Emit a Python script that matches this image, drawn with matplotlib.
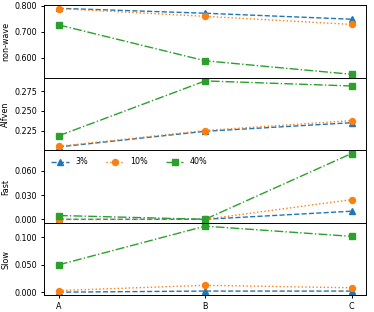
import matplotlib
matplotlib.use('Agg')
import matplotlib.pyplot as plt
from matplotlib.ticker import FormatStrFormatter

plt.rcParams['font.size'] = 5.8
plt.rcParams['xtick.major.size'] = 2.5
plt.rcParams['ytick.major.size'] = 2.5
plt.rcParams['xtick.major.pad'] = 2.0
plt.rcParams['ytick.major.pad'] = 2.5
plt.rcParams['axes.linewidth'] = 0.7
plt.rcParams['xtick.major.width'] = 0.7
plt.rcParams['ytick.major.width'] = 0.7

cases = ["A", "B", "C"]
labels = ["3%", "10%", "40%"]
panels = ["non-wave", "Alfven", "Fast", "Slow"]

nonwave_3 = [0.791, 0.772, 0.749]
nonwave_10 = [0.790, 0.760, 0.729]
nonwave_40 = [0.727, 0.589, 0.537]

alfven_3 = [0.204, 0.224, 0.235]
alfven_10 = [0.2047, 0.225, 0.2377]
alfven_40 = [0.2183, 0.2885, 0.282]

fast_3 = [0.0, 0.0, 0.010]
fast_10 = [-0.0003, 0.0, 0.0243]
fast_40 = [0.0047, 0.0, 0.0813]

slow_3 = [0.0, 0.002, 0.002]
slow_10 = [0.003, 0.0125, 0.008]
slow_40 = [0.050, 0.1207, 0.102]

data = [
    (nonwave_3, nonwave_10, nonwave_40),
    (alfven_3, alfven_10, alfven_40),
    (fast_3, fast_10, fast_40),
    (slow_3, slow_10, slow_40),
]
styles = [("tab:blue", "--", "^"), ("tab:orange", ":", "o"), ("tab:green", "-.", "s")]

fig, axes = plt.subplots(4, 1, figsize=(3.74, 3.12), dpi=100, sharex=True)
fig.subplots_adjust(left=0.118, right=0.979, top=0.984, bottom=0.053, hspace=0)

x = range(len(cases))
for ax, name, series in zip(axes, panels, data):
    for vals, lab, (c, ls, m) in zip(series, labels, styles):
        ax.plot(x, vals, color=c, linestyle=ls, marker=m, markersize=4.3, linewidth=1.0, label=lab)
    ax.set_ylabel(name, labelpad=3)
    ax.yaxis.set_major_formatter(FormatStrFormatter('%.3f'))

axes[0].set_yticks([0.6, 0.7, 0.8])
axes[1].set_yticks([0.225, 0.25, 0.275])
axes[2].set_yticks([0.0, 0.03, 0.06])
axes[3].set_yticks([0.0, 0.05, 0.1])
axes[2].legend(loc='upper left', ncol=3, frameon=False, handlelength=2.2, columnspacing=2.2)
axes[3].set_xticks(list(x))
axes[3].set_xticklabels(cases)
fig.align_ylabels(axes)

fig.savefig('out.png')
